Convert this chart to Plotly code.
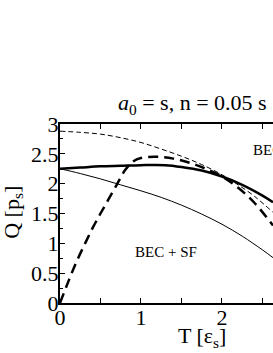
import plotly.graph_objects as go

# Data
T_thin_dash = [0, 0.25, 0.5, 0.75, 1.0, 1.25, 1.5, 1.75, 2.0, 2.2, 2.4, 2.63]
Q_thin_dash = [2.88, 2.86, 2.83, 2.77, 2.69, 2.58, 2.46, 2.32, 2.15, 1.98, 1.79, 1.52]

T_thin = [0, 0.25, 0.5, 0.75, 1.0, 1.25, 1.5, 1.75, 2.0, 2.25, 2.5, 2.63]
Q_thin = [2.25, 2.17, 2.08, 1.98, 1.88, 1.77, 1.64, 1.49, 1.32, 1.12, 0.89, 0.76]

T_thick = [0, 0.25, 0.5, 0.75, 1.0, 1.3, 1.5, 1.75, 2.0, 2.25, 2.5, 2.63]
Q_thick = [2.25, 2.27, 2.29, 2.3, 2.31, 2.31, 2.28, 2.22, 2.12, 1.98, 1.8, 1.69]

T_thick_dash = [0, 0.1, 0.2, 0.3, 0.4, 0.5, 0.6, 0.7, 0.8, 0.9, 1.0, 1.2, 1.4, 1.6, 1.8, 2.0, 2.2, 2.4, 2.63]
Q_thick_dash = [0, 0.35, 0.68, 0.97, 1.25, 1.5, 1.74, 1.98, 2.22, 2.37, 2.43, 2.45, 2.42, 2.35, 2.25, 2.12, 1.93, 1.68, 1.3]

y_ticks = [0, 0.5, 1, 1.5, 2, 2.5, 3]
y_tick_labels = ["0", "0.5", "1", "1.5", "2", "2.5", "3"]
x_ticks = [0, 0.5, 1, 1.5, 2, 2.5]
x_tick_labels = ["0", "", "1", "", "2", ""]

FONT = "Liberation Serif"

fig = go.Figure()
fig.add_trace(go.Scatter(x=T_thin_dash, y=Q_thin_dash, mode="lines", line=dict(color="black", width=1, dash="5px,3px", shape="spline")))
fig.add_trace(go.Scatter(x=T_thin, y=Q_thin, mode="lines", line=dict(color="black", width=1, shape="spline")))
fig.add_trace(go.Scatter(x=T_thick, y=Q_thick, mode="lines", line=dict(color="black", width=2.5, shape="spline")))
fig.add_trace(go.Scatter(x=T_thick_dash, y=Q_thick_dash, mode="lines", line=dict(color="black", width=2.5, dash="10px,6px", shape="spline")))

fig.update_layout(
    width=273, height=353,
    margin=dict(l=60, r=0, t=124, b=50, autoexpand=False),
    paper_bgcolor="white", plot_bgcolor="white",
    showlegend=False,
    hovermode=False,
    font=dict(family=FONT, color="black", size=22),
    xaxis=dict(range=[0, 2.63], tickvals=x_ticks, ticktext=x_tick_labels, ticks="inside", ticklen=5,
               tickwidth=1, tickcolor="black", showline=True, linecolor="black", linewidth=2,
               mirror="ticks", showgrid=False, zeroline=False, tickfont=dict(size=22), automargin=False,
               ticklabelstandoff=-6),
    yaxis=dict(range=[0, 3], tickvals=y_ticks, ticktext=y_tick_labels, ticks="inside", ticklen=5,
               tickwidth=1, tickcolor="black", showline=True, linecolor="black", linewidth=2,
               showgrid=False, zeroline=False, tickfont=dict(size=22), automargin=False,
               ticklabelstandoff=-5,
               minor=dict(dtick=0.25, ticks="inside", ticklen=3, tickcolor="black")),
    annotations=[
        dict(text="<i>a</i><sub>0</sub> = s, n = 0.05 s", xref="paper", yref="paper", x=0.265, y=1.11,
             xanchor="left", yanchor="middle", showarrow=False, font=dict(size=22)),
        dict(text="T [ε<sub>s</sub>]", xref="paper", yref="paper", x=0.665, y=-0.19,
             xanchor="center", yanchor="middle", showarrow=False, font=dict(size=22)),
        dict(text="Q [p<sub>s</sub>]", xref="paper", yref="paper", x=-0.222, y=0.508,
             xanchor="center", yanchor="middle", showarrow=False, textangle=-90, font=dict(size=22)),
        dict(text="BEC", xref="x", yref="y", x=2.36, y=2.56, xanchor="left", yanchor="middle",
             showarrow=False, font=dict(size=15)),
        dict(text="BEC + SF", xref="x", yref="y", x=1.31, y=0.855, xanchor="center", yanchor="middle",
             showarrow=False, font=dict(size=15)),
    ],
)

fig.write_html("out.html", config={"displayModeBar": False},
               post_script="document.body.style.margin='0px';")
